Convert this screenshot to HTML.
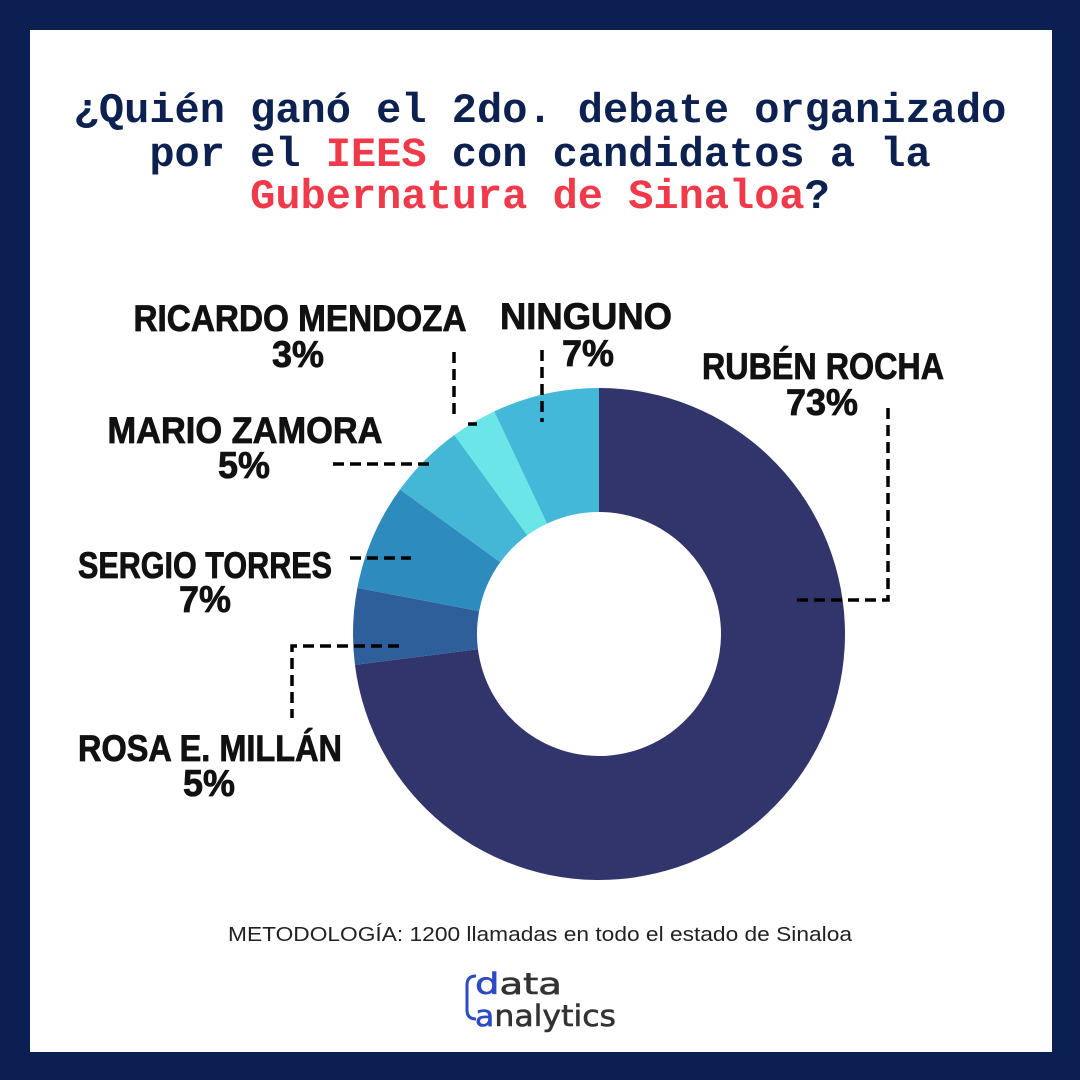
<!DOCTYPE html>
<html><head><meta charset="utf-8"><style>
html,body{margin:0;padding:0;background:#0c1f52}
body{width:1080px;height:1080px;position:relative;overflow:hidden}
#w{position:absolute;left:30px;top:30px;width:1022px;height:1022px;background:#fff}
svg{position:absolute;left:0;top:0}
</style></head><body><div id="w"></div>
<svg width="1080" height="1080" viewBox="0 0 1080 1080">
<g font-family="Liberation Mono, monospace" font-weight="bold" font-size="42" text-anchor="middle" fill="#0d2150">
<text x="540" y="122">¿Quién ganó el 2do. debate organizado</text>
<text x="540" y="166">por el <tspan fill="#f03a4a">IEES</tspan> con candidatos a la</text>
<text x="540" y="208"><tspan fill="#f03a4a">Gubernatura de Sinaloa</tspan>?</text>
</g>
<g id="donut"></g>
<g stroke="#000" stroke-width="3.5" fill="none" stroke-dasharray="11 6">
<path d="M454 352 V420"/><path d="M468 424 H477"/>
<path d="M542 350 V422"/>
<path d="M888 408 V600 H793"/>
<path d="M333 464 H430"/>
<path d="M350 558 H411"/>
<path d="M399 646 H292 V718"/>
</g>
<g font-family="Liberation Sans, sans-serif" font-weight="bold" font-size="37" text-anchor="middle" fill="#111" stroke="#111" stroke-width="0.8">
<text x="300" y="331" textLength="333" lengthAdjust="spacingAndGlyphs">RICARDO MENDOZA</text>
<text x="298" y="367" textLength="52" lengthAdjust="spacingAndGlyphs">3%</text>
<text x="586" y="329" textLength="172" lengthAdjust="spacingAndGlyphs">NINGUNO</text>
<text x="588" y="366" textLength="52" lengthAdjust="spacingAndGlyphs">7%</text>
<text x="823" y="379" textLength="242" lengthAdjust="spacingAndGlyphs">RUBÉN ROCHA</text>
<text x="822" y="415" textLength="72" lengthAdjust="spacingAndGlyphs">73%</text>
<text x="245" y="443" textLength="275" lengthAdjust="spacingAndGlyphs">MARIO ZAMORA</text>
<text x="244" y="478" textLength="52" lengthAdjust="spacingAndGlyphs">5%</text>
<text x="205" y="578" textLength="254" lengthAdjust="spacingAndGlyphs">SERGIO TORRES</text>
<text x="205" y="612" textLength="52" lengthAdjust="spacingAndGlyphs">7%</text>
<text x="210" y="761" textLength="264" lengthAdjust="spacingAndGlyphs">ROSA E. MILLÁN</text>
<text x="209" y="796" textLength="52" lengthAdjust="spacingAndGlyphs">5%</text>
</g>
<text x="540" y="941" font-family="Liberation Sans, sans-serif" font-size="20" text-anchor="middle" fill="#222" textLength="624" lengthAdjust="spacingAndGlyphs">METODOLOGÍA: 1200 llamadas en todo el estado de Sinaloa</text>
<g font-family="DejaVu Sans, sans-serif" font-size="29" fill="#333" stroke="#333" stroke-width="0.6">
<text x="475" y="994" textLength="87" lengthAdjust="spacingAndGlyphs"><tspan fill="#2d4bc4" stroke="#2d4bc4">d</tspan>ata</text>
<text x="475" y="1026" textLength="141" lengthAdjust="spacingAndGlyphs"><tspan fill="#2d4bc4" stroke="#2d4bc4">a</tspan>nalytics</text>
</g>
<path d="M476 976 Q467 976 467 985 V1010 Q467 1019 476 1019" stroke="#2d4bc4" stroke-width="3" fill="none"/>
</svg>
<script>
var cx=599,cy=634,R=246,r=122;
var d=[[73,"#31356b"],[5,"#2e5f9a"],[7,"#2e8bbd"],[5,"#44b6d6"],[3,"#6ce5e8"],[7,"#44b8d8"]];
var a=0,g=document.getElementById("donut"),s="";
function p(ang,rad){return [cx+rad*Math.sin(ang),cy-rad*Math.cos(ang)];}
d.forEach(function(x){var a0=a*2*Math.PI/100,a1=(a+x[0])*2*Math.PI/100;a+=x[0];
var l=(x[0]>50)?1:0,o0=p(a0,R),o1=p(a1,R),i1=p(a1,r),i0=p(a0,r);
s+='<path fill="'+x[1]+'" d="M'+o0+' A'+R+' '+R+' 0 '+l+' 1 '+o1+' L'+i1+' A'+r+' '+r+' 0 '+l+' 0 '+i0+' Z"/>';});
g.innerHTML=s;
</script>
</body></html>
